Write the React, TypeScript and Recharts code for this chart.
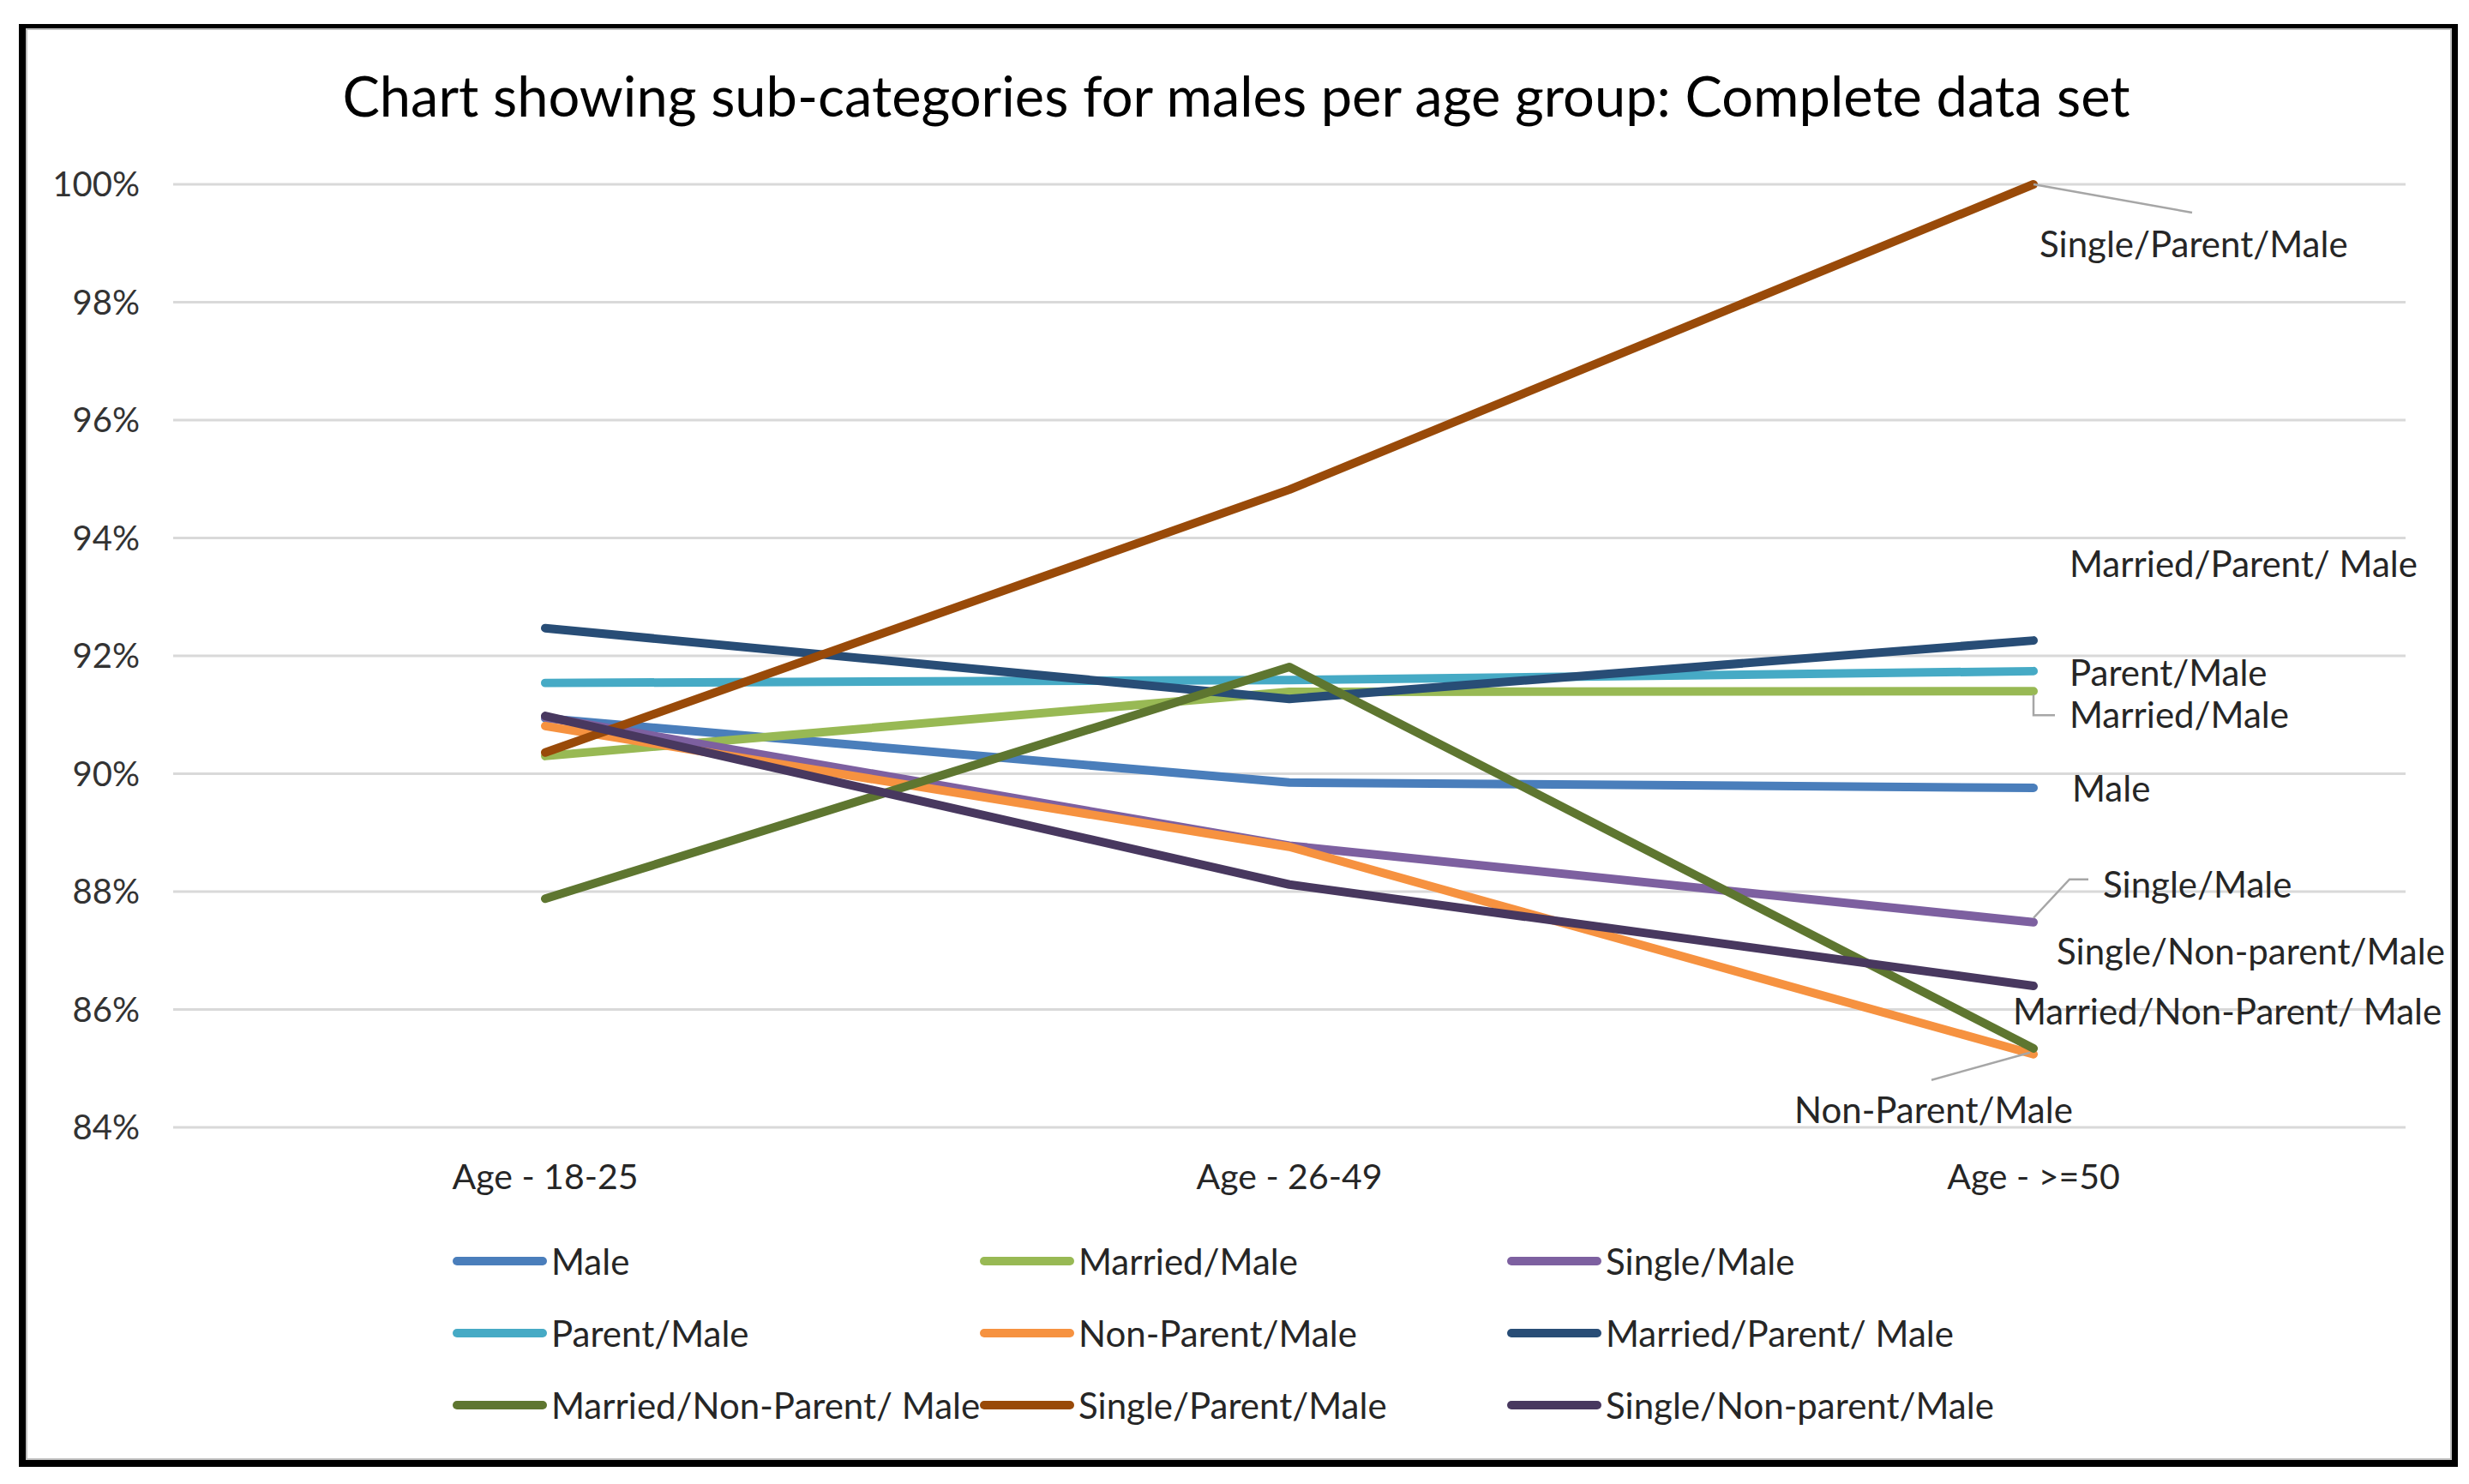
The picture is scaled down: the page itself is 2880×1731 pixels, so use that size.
import React from 'react';
import { LineChart, Line, XAxis, YAxis, CartesianGrid, Legend, LabelList } from 'recharts';

// ---------- data ----------
const categories = ['Age - 18-25', 'Age - 26-49', 'Age - >=50'];
const seriesNames = [
  'Male',
  'Married/Male',
  'Single/Male',
  'Parent/Male',
  'Non-Parent/Male',
  'Married/Parent/ Male',
  'Married/Non-Parent/ Male',
  'Single/Parent/Male',
  'Single/Non-parent/Male',
];
const male = [90.94, 89.85, 89.76];
const marriedMale = [90.3, 91.39, 91.4];
const singleMale = [90.96, 88.78, 87.48];
const parentMale = [91.54, 91.59, 91.74];
const nonParentMale = [90.81, 88.76, 85.24];
const marriedParentMale = [92.47, 91.27, 92.26];
const marriedNonParentMale = [87.88, 91.81, 85.34];
const singleParentMale = [90.36, 94.82, 100.0];
const singleNonParentMale = [90.98, 88.12, 86.4];
const yTicks = [84, 86, 88, 90, 92, 94, 96, 98, 100];

const seriesValues = [
  male,
  marriedMale,
  singleMale,
  parentMale,
  nonParentMale,
  marriedParentMale,
  marriedNonParentMale,
  singleParentMale,
  singleNonParentMale,
];

// ---------- styles ----------
const colors = [
  '#4A7EBB',
  '#98B954',
  '#7D60A0',
  '#46AAC5',
  '#F69240',
  '#284D76',
  '#5E7630',
  '#994A09',
  '#48385F',
];

// label placement relative to the last point (text left edge, text vertical centre)
const labelLayout: { dx: number; dy: number; leader?: number[][] }[] = [
  { dx: 45, dy: 1 },
  { dx: 42, dy: 28, leader: [[0, 4], [0, 28], [25, 28]] },
  { dx: 81, dy: -44, leader: [[0, -5], [42, -50], [64, -50]] },
  { dx: 42, dy: 2 },
  { dx: -279, dy: 65, leader: [[-4, -2], [-119, 30]] },
  { dx: 42, dy: -89 },
  { dx: -24, dy: -43 },
  { dx: 7, dy: 70, leader: [[0, 0], [185, 33]] },
  { dx: 27, dy: -40 },
];

const FONT = 'Lato, "Open Sans", sans-serif';
const TEXT_SIZE = 42;

const rows = categories.map((c, i) => {
  const r: Record<string, string | number> = { category: c };
  seriesValues.forEach((vals, s) => {
    r['s' + s] = vals[i];
  });
  return r;
});

const makeLabel = (s: number) => (props: any) => {
  const { index } = props;
  if (index !== categories.length - 1) return null;
  const x = Number(props.x ?? props.viewBox?.x);
  const y = Number(props.y ?? props.viewBox?.y);
  const lay = labelLayout[s];
  return (
    <g>
      {lay.leader && (
        <polyline
          points={lay.leader.map((p) => `${x + p[0]},${y + p[1]}`).join(' ')}
          fill="none"
          stroke="#A6A6A6"
          strokeWidth={2.5}
        />
      )}
      <text
        x={x + lay.dx}
        y={y + lay.dy}
        dy="0.36em"
        textAnchor="start"
        fontFamily={FONT}
        fontSize={TEXT_SIZE}
        fill="#262626"
      >
        {seriesNames[s]}
      </text>
    </g>
  );
};

const renderLegend = () => (
  <div
    style={{
      display: 'grid',
      gridTemplateColumns: 'repeat(3, 615px)',
      gridAutoRows: '84px',
      fontFamily: FONT,
      fontSize: TEXT_SIZE,
      color: '#262626',
    }}
  >
    {seriesNames.map((name, s) => (
      <div key={name} style={{ display: 'flex', alignItems: 'center', whiteSpace: 'nowrap' }}>
        <svg width={110} height={16} style={{ flex: 'none' }}>
          <line x1={5} y1={8} x2={105} y2={8} stroke={colors[s]} strokeWidth={10} strokeLinecap="round" />
        </svg>
        <span style={{ marginLeft: 5 }}>{name}</span>
      </div>
    ))}
  </div>
);

export default function App() {
  return (
    <div
      style={{
        position: 'absolute',
        left: 0,
        top: 0,
        width: 2880,
        height: 1731,
        background: '#fff',
        overflow: 'hidden',
      }}
    >
      <div
        style={{
          position: 'absolute',
          left: 22,
          top: 28,
          width: 2845,
          height: 1683,
          boxSizing: 'border-box',
          borderTop: '5px solid #000',
          borderLeft: '8px solid #000',
          borderRight: '7px solid #000',
          borderBottom: '8px solid #000',
          boxShadow: 'inset 0 0 0 2px #BFBFBF',
        }}
      />
      <div
        style={{
          position: 'absolute',
          left: 0,
          top: 80,
          width: 2884,
          textAlign: 'center',
          fontFamily: FONT,
          fontSize: 65,
          lineHeight: '62px',
          color: '#000',
          whiteSpace: 'nowrap',
        }}
      >
        Chart showing sub-categories for males per age group: Complete data set
      </div>
      <div style={{ position: 'absolute', left: 0, top: 0 }}>
        <LineChart
          width={2880}
          height={1731}
          data={rows}
          margin={{ top: 215, right: 74, bottom: 316, left: 0 }}
        >
          <CartesianGrid vertical={false} stroke="#D9D9D9" strokeWidth={3} />
          <XAxis
            dataKey="category"
            padding={{ left: 434, right: 434 }}
            axisLine={false}
            tickLine={false}
            tickSize={0}
            tickMargin={43}
            height={100}
            interval={0}
            tick={{ fontFamily: FONT, fontSize: 41, fill: '#262626' }}
          />
          <YAxis
            width={202}
            domain={[84, 100]}
            ticks={yTicks}
            interval={0}
            axisLine={false}
            tickLine={false}
            tickSize={0}
            tickMargin={39}
            tickFormatter={(v: number) => `${v}%`}
            tick={{ fontFamily: FONT, fontSize: 40, fill: '#333333' }}
          />
          <Legend
            layout="horizontal"
            verticalAlign="middle"
            align="center"
            content={renderLegend}
            wrapperStyle={{ position: 'absolute', left: 528, top: 1429, width: 1850, height: 252 }}
          />
          {seriesNames.map((name, s) => (
            <Line
              key={name}
              type="linear"
              dataKey={'s' + s}
              name={name}
              stroke={colors[s]}
              strokeWidth={10}
              strokeLinecap="round"
              strokeLinejoin="round"
              dot={false}
              activeDot={false}
              isAnimationActive={false}
            >
              <LabelList dataKey={'s' + s} content={makeLabel(s)} />
            </Line>
          ))}
        </LineChart>
      </div>
    </div>
  );
}
